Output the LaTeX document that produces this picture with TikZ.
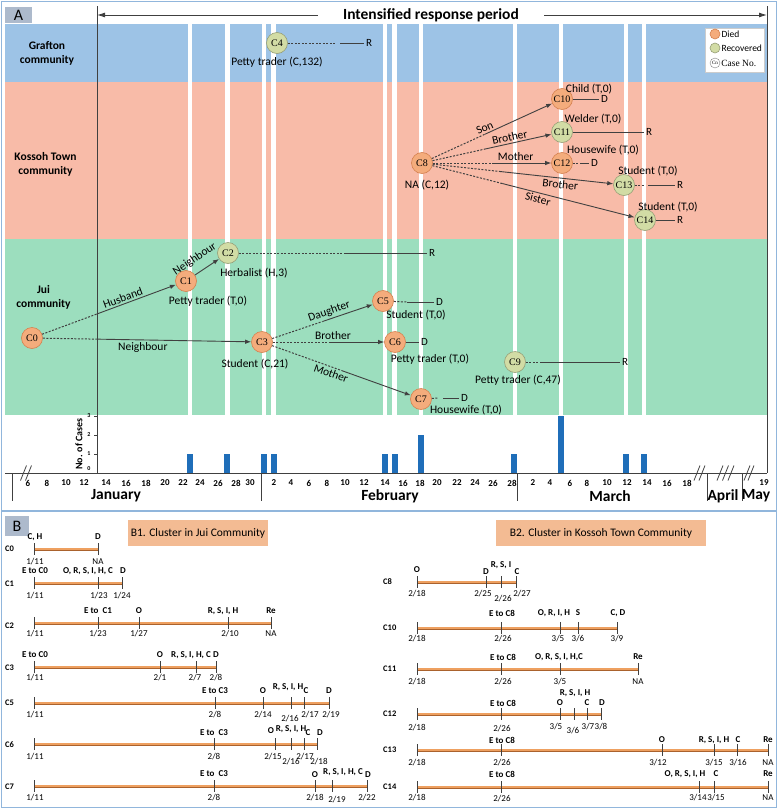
\documentclass[tikz,border=0pt]{standalone}
\usepackage{fontspec}
\setmainfont{Carlito}
\newfontfamily\timesf{Liberation Serif}
\usetikzlibrary{arrows.meta,calc}

\definecolor{graftonblue}{RGB}{157,195,230}
\definecolor{kossohpink}{RGB}{248,187,168}
\definecolor{juigreen}{RGB}{156,222,190}
\definecolor{diedfill}{RGB}{244,172,124}
\definecolor{diedline}{RGB}{212,128,78}
\definecolor{recfill}{RGB}{210,220,165}
\definecolor{recline}{RGB}{150,158,118}
\definecolor{barblue}{RGB}{31,110,185}
\definecolor{framebl}{RGB}{145,182,220}
\definecolor{edgegray}{RGB}{64,64,64}
\definecolor{tlfill}{RGB}{238,160,96}
\definecolor{tledge}{RGB}{170,98,45}
\definecolor{boxorange}{RGB}{243,187,147}
\definecolor{panelgray}{RGB}{173,186,204}

\tikzset{
  died/.style={circle,draw=diedline,line width=0.6pt,fill=diedfill,minimum size=21pt,inner sep=0pt,font=\timesf\fontsize{10}{10}\selectfont},
  recov/.style={died,draw=recline,fill=recfill},
  job/.style={inner sep=0pt,font=\fontsize{11.5}{12}\selectfont},
  rel/.style={inner sep=2pt,font=\fontsize{11.5}{12}\selectfont},
  outc/.style={anchor=west,inner sep=2pt,font=\fontsize{11}{12}\selectfont},
  link/.style={draw=edgegray,line width=0.9pt,-{Latex[length=6pt,width=4.5pt]}},
  early/.style={draw=edgegray,line width=1pt,dash pattern=on 2pt off 1.5pt},
  tail/.style={draw=edgegray,line width=0.8pt},
  comm/.style={align=center,inner sep=0pt,font=\bfseries\fontsize{11.5}{14}\selectfont},
  datenum/.style={inner sep=0pt,font=\bfseries\fontsize{9}{9}\selectfont},
  monthlab/.style={inner sep=0pt,font=\bfseries\fontsize{15.5}{16}\selectfont},
  tline/.style={draw=tledge,line width=0.7pt,double=tlfill,double distance=1.6pt},
  tickm/.style={draw=edgegray,line width=0.6pt},
  evtlab/.style={inner sep=0pt,font=\bfseries\fontsize{9}{9}\selectfont},
  daylab/.style={inner sep=0pt,font=\fontsize{9}{9}\selectfont},
  rowlab/.style={anchor=west,inner sep=0pt,font=\bfseries\fontsize{8.5}{9}\selectfont},
  panel/.style={fill=panelgray,inner sep=0pt,font=\fontsize{16}{16}\selectfont},
  cluster/.style={fill=boxorange,inner sep=0pt,minimum height=26pt,font=\fontsize{11.5}{12}\selectfont},
}

\begin{document}
\begin{tikzpicture}[x=1pt,y=-1pt]
\useasboundingbox (0,0) rectangle (778,809);
% frame of both panels
\draw[framebl,line width=1.2pt] (1.5,1.5) rectangle (776.5,807.5);
\draw[framebl,line width=1.2pt] (1.5,511) -- (776.5,511);

% community bands
\fill[graftonblue] (5,24) rectangle (767,82);
\fill[kossohpink] (5,82) rectangle (767,239);
\fill[juigreen] (5,239) rectangle (767,415);
\foreach \x in {190,227.5,264,273.5,385,394.5,421,515,561,626,644}
  \fill[white] (\x-2.2,24) rectangle (\x+2.2,415);
\node[comm] (graf) at (47,53) {Grafton\\community};
\node[comm] (koss) at (45.5,164) {Kossoh Town\\community};
\node[comm] (jui) at (43.5,297) {Jui\\community};

% panel letters
\node[panel,minimum width=27pt,minimum height=16pt] (pA) at (18.5,15) {A};
\node[panel,minimum width=24pt,minimum height=20pt] (pB) at (17,526) {B};

% intensified response period
\coordinate (topL) at (97,6);
\coordinate (topR) at (767,6);
\draw[edgegray,line width=0.9pt] (topL) -- (97,473);
\draw[edgegray,line width=0.9pt] (topR) -- (767,473);
\node[inner sep=0pt,font=\bfseries\fontsize{15.5}{16}\selectfont] (irp) at (431,15) {Intensified response period};
\draw[edgegray,line width=0.9pt,-{Latex[length=8pt,width=5pt]}] ([xshift=-25]irp.west) -- (irp.west -| topL);
\draw[edgegray,line width=0.9pt,-{Latex[length=8pt,width=5pt]}] ([xshift=25]irp.east) -- (irp.east -| topR);

% legend
\draw[gray!40,fill=white] (705,28) rectangle (764,72);
\node[died,minimum size=10pt] (lgD) at (715,34) {};
\node[recov,minimum size=10pt] (lgR) at (715,48) {};
\node[circle,draw=gray,fill=white,minimum size=10pt,inner sep=0pt,font=\timesf\fontsize{5}{5}\selectfont] (lgC) at (715,63) {Cn};
\node[anchor=west,inner sep=1pt,font=\fontsize{9.5}{10}\selectfont] (lgDt) at (lgD.east) {Died};
\node[anchor=west,inner sep=1pt,font=\fontsize{9.5}{10}\selectfont] (lgRt) at (lgR.east) {Recovered};
\node[anchor=west,inner sep=1pt,font=\timesf\fontsize{9.5}{10}\selectfont] (lgCt) at (lgC.east) {Case No.};

% cases
\node[died] (C0) at (32,338) {C0};
\node[died] (C1) at (186,281) {C1};
\node[recov] (C2) at (228,253) {C2};
\node[died] (C3) at (262,342) {C3};
\node[recov] (C4) at (277,43) {C4};
\node[died] (C5) at (383,301) {C5};
\node[died] (C6) at (395,342) {C6};
\node[died] (C7) at (421,399) {C7};
\node[died] (C8) at (422,163) {C8};
\node[recov] (C9) at (515,362) {C9};
\node[died] (C10) at (562,99) {C10};
\node[recov] (C11) at (562,132) {C11};
\node[died] (C12) at (562,163) {C12};
\node[recov] (C13) at (624,185) {C13};
\node[recov] (C14) at (645,220) {C14};

% occupations
\node[job] (jC4) at (277,62) {Petty trader (C,132)};
\node[job] (jC1) at (208,301) {Petty trader (T,0)};
\node[job] (jC2) at (254,273) {Herbalist (H,3)};
\node[job] (jC3) at (255,364) {Student (C,21)};
\node[job] (jC5) at (416,315) {Student (T,0)};
\node[job] (jC6) at (430,359) {Petty trader (T,0)};
\node[job] (jC7) at (466,410) {Housewife (T,0)};
\node[job] (jC8) at (427,185) {NA (C,12)};
\node[job] (jC9) at (518,380) {Petty trader (C,47)};
\node[job] (jC10) at (589,89) {Child (T,0)};
\node[job] (jC11) at (593,119) {Welder (T,0)};
\node[job] (jC12) at (603,150) {Housewife (T,0)};
\node[job] (jC13) at (648,171) {Student (T,0)};
\node[job] (jC14) at (668,207) {Student (T,0)};

% Jui chain
\draw[early] (C0) -- ($(C0)!0.42!(C1)$) coordinate (b01);
\draw[link] (b01) -- (C1);
\draw[early] (C0) -- ($(C0)!0.28!(C3)$) coordinate (b03);
\draw[link] (b03) -- (C3);
\draw[link] (C1) -- (C2) node[rel,above=6pt,sloped,pos=0.3] (lC2) {Neighbour};
\path (C0) -- (C1) node[rel,above,sloped,pos=0.62] (lC1) {Husband};
\path (C0) -- (C3) node[rel,below,pos=0.48] (lC3) {Neighbour};
\draw[early] (C3) -- ($(C3)!0.5!(C5)$) coordinate (b35);
\draw[link] (b35) -- (C5);
\draw[early] (C3) -- ($(C3)!0.5!(C6)$) coordinate (b36);
\draw[link] (b36) -- (C6);
\draw[early] (C3) -- ($(C3)!0.5!(C7)$) coordinate (b37);
\draw[link] (b37) -- (C7);
\path (C3) -- (C5) node[rel,above,sloped,pos=0.59] (lC5) {Daughter};
\path (C3) -- (C6) node[rel,above,pos=0.54] (lC6) {Brother};
\path (C3) -- (C7) node[rel,below,sloped,pos=0.44] (lC7) {Mother};

% Kossoh Town chain
\draw[early] (C8) -- ($(C8)!0.45!(C10)$) coordinate (b810);
\draw[link] (b810) -- (C10);
\draw[early] (C8) -- ($(C8)!0.45!(C11)$) coordinate (b811);
\draw[link] (b811) -- (C11);
\draw[early] (C8) -- ($(C8)!0.5!(C12)$) coordinate (b812);
\draw[link] (b812) -- (C12);
\draw[early] (C8) -- ($(C8)!0.39!(C13)$) coordinate (b813);
\draw[link] (b813) -- (C13);
\draw[early] (C8) -- ($(C8)!0.36!(C14)$) coordinate (b814);
\draw[link] (b814) -- (C14);
\path (C8) -- (C10) node[rel,above,sloped,pos=0.46] (lC10) {Son};
\path (C8) -- (C11) node[rel,above,sloped,pos=0.66] (lC11) {Brother};
\path (C8) -- (C12) node[rel,above,pos=0.7] (lC12) {Mother};
\path (C8) -- (C13) node[rel,below,sloped,pos=0.71] (lC13) {Brother};
\path (C8) -- (C14) node[rel,below,sloped,pos=0.53] (lC14) {Sister};

% outcomes
\node[outc] (oC4) at (364,43) {R};
\node[outc] (oC2) at (427,253) {R};
\node[outc] (oC5) at (434,302) {D};
\node[outc] (oC6) at (419,342) {D};
\node[outc] (oC7) at (459,398) {D};
\node[outc] (oC9) at (620,362) {R};
\node[outc] (oC10) at (599,99) {D};
\node[outc] (oC11) at (644,132) {R};
\node[outc] (oC12) at (589,163) {D};
\node[outc] (oC13) at (675,185) {R};
\node[outc] (oC14) at (675,220) {R};
\foreach \c/\d in {C4/29,C2/82,C5/27,C7/21,C9/80,C12/7,C13/30}
  \draw[early] (\c) -- ([xshift=-\d]o\c.west);
\foreach \c/\s in {C4/24,C2/82,C5/27,C7/16,C9/80,C12/7,C13/27}
  \draw[tail] ([xshift=-\s]o\c.west) -- (o\c);
\foreach \c in {C6,C10,C11,C14}
  \draw[tail] (\c) -- (o\c);

% number of cases
\foreach \x/\n in {190/1,227/1,264/1,274/1,385/1,395/1,421/2,514/1,561/3,626/1,644/1}
  \fill[barblue] (\x-3,473) rectangle (\x+3,473-19*\n);
\foreach \n in {0,1,2,3} {
  \draw[edgegray,line width=0.6pt] (94,473-19*\n) -- (97,473-19*\n);
  \node[inner sep=0pt,font=\bfseries\fontsize{6}{6}\selectfont] (n\n) at (89,{min(469,473-19*\n)}) {\n};
}
\node[rotate=90,inner sep=0pt,font=\bfseries\fontsize{10}{10}\selectfont] (ncase) at (79,444) {No. of Cases};

% date axis
\draw[edgegray,line width=0.9pt] (5,473) -- (767,473);
\foreach \x in {12,261,517,707,742}
  \draw[edgegray,line width=0.7pt] (\x,473) -- (\x,501);
\foreach \x in {23.5,28.5,697,702,720,725.5,731,747,751}
  \draw[edgegray,line width=0.8pt] (\x-3,480.5) -- (\x+3,465.5);
\foreach \x/\d in {28/6,47/8,66/10,84/12,106/14,126/16,146/18,165/20,183/22,200/24,218/26,236/28,250/30,
                   274/2,291/4,309/6,327/8,345/10,364/12,385/14,403/16,420/18,437/20,457/22,475/24,493/26,512/28,
                   533/2,550/4,570/6,587/8,607/10,627/12,647/14,667/16,687/18,764/19}
  \node[datenum] (d\x) at (\x,483) {\d};
\node[monthlab] (jan) at (116,496) {January};
\node[monthlab] (feb) at (390,496) {February};
\node[monthlab] (mar) at (610,496) {March};
\node[monthlab] (apr) at (723,496) {April};
\node[monthlab] (may) at (756,496) {May};

% B1 cluster in Jui
\node[cluster,minimum width=140pt] (bJui) at (198,533) {B1. Cluster in Jui Community};
% C0 row
\node[rowlab] (rC0) at (5,549) {C0};
\draw[tline] (34,549) -- (98,549);
\foreach \x in {34,98} \draw[tickm] (\x,543) -- (\x,555);
\foreach \x/\y/\t in {35/537/{C, H},98/537/D} \node[evtlab] (C0e\x) at (\x,\y) {\t};
\foreach \x/\y/\t in {35/562/{1/11},98/562/NA} \node[daylab] (C0d\x) at (\x,\y) {\t};
% C1 row
\node[rowlab] (rC1) at (5,584) {C1};
\draw[tline] (34,583) -- (122,583);
\foreach \x in {34,98,122} \draw[tickm] (\x,577) -- (\x,589);
\foreach \x/\y/\t in {35/571/{E to C0},88/571/{O, R, S, I, H, C},123/571/D} \node[evtlab] (C1e\x) at (\x,\y) {\t};
\foreach \x/\y/\t in {35/596/{1/11},99/596/{1/23},122/596/{1/24}} \node[daylab] (C1d\x) at (\x,\y) {\t};
% C2 row
\node[rowlab] (rC2) at (5,626) {C2};
\draw[tline] (34,623) -- (271,623);
\foreach \x in {34,98,139,228,271} \draw[tickm] (\x,617) -- (\x,629);
\foreach \x/\y/\t in {98/611/{E to\ \ C1},139/611/O,223/611/{R, S, I, H},271/611/Re} \node[evtlab] (C2e\x) at (\x,\y) {\t};
\foreach \x/\y/\t in {35/634/{1/11},98/634/{1/23},139/634/{1/27},230/634/{2/10},271/634/NA} \node[daylab] (C2d\x) at (\x,\y) {\t};
% C3 row
\node[rowlab] (rC3) at (5,668) {C3};
\draw[tline] (34,667) -- (216,667);
\foreach \x in {34,160,196,216} \draw[tickm] (\x,661) -- (\x,673);
\foreach \x/\y/\t in {35/655/{E to C0},160/655/O,191/655/{R, S, I, H, C},216/655/D} \node[evtlab] (C3e\x) at (\x,\y) {\t};
\foreach \x/\y/\t in {35/678/{1/11},160/678/{2/1},195/678/{2/7},216/678/{2/8}} \node[daylab] (C3d\x) at (\x,\y) {\t};
% C5 row
\node[rowlab] (rC5) at (5,703) {C5};
\draw[tline] (34,703) -- (329,703);
\foreach \x in {34,215,263,291,304,329} \draw[tickm] (\x,697) -- (\x,709);
\foreach \x/\y/\t in {215/691/{E to C3},263/691/O,288/687/{R, S, I, H},306/691/C,329/691/D} \node[evtlab] (C5e\x) at (\x,\y) {\t};
\foreach \x/\y/\t in {35/715/{1/11},215/715/{2/8},263/715/{2/14},290/719/{2/16},310/715/{2/17},331/715/{2/19}} \node[daylab] (C5d\x) at (\x,\y) {\t};
% C6 row
\node[rowlab] (rC6) at (5,745) {C6};
\draw[tline] (34,744) -- (317,744);
\foreach \x in {34,214,275,291,304,317} \draw[tickm] (\x,738) -- (\x,750);
\foreach \x/\y/\t in {214/733/{E to\ \ C3},271/731/O,291/729/{R, S, I, H},308/733/C,320/733/D} \node[evtlab] (C6e\x) at (\x,\y) {\t};
\foreach \x/\y/\t in {35/757/{1/11},214/757/{2/8},273/757/{2/15},291/762/{2/16},305/757/{2/17},319/762/{2/18}} \node[daylab] (C6d\x) at (\x,\y) {\t};
% C7 row
\node[rowlab] (rC7) at (5,787) {C7};
\draw[tline] (34,786) -- (367,786);
\foreach \x in {34,214,315,332,367} \draw[tickm] (\x,780) -- (\x,792);
\foreach \x/\y/\t in {214/774/{E to\ \ C3},315/775/O,343/772/{R, S, I, H, C},368/775/D} \node[evtlab] (C7e\x) at (\x,\y) {\t};
\foreach \x/\y/\t in {35/798/{1/11},214/798/{2/8},315/798/{2/18},337/800/{2/19},367/798/{2/22}} \node[daylab] (C7d\x) at (\x,\y) {\t};

% B2 cluster in Kossoh Town
\node[cluster,minimum width=210pt] (bKoss) at (601,533) {B2. Cluster in Kossoh Town Community};
% C8 row
\node[rowlab] (rC8) at (383,582) {C8};
\draw[tline] (417,582) -- (516,582);
\foreach \x in {417,486,501,516} \draw[tickm] (\x,576) -- (\x,588);
\foreach \x/\y/\t in {417/570/O,486/572/D,501/565/{R, S, I},517/572/C} \node[evtlab] (C8e\x) at (\x,\y) {\t};
\foreach \x/\y/\t in {417/594/{2/18},483/594/{2/25},503/599/{2/26},522/594/{2/27}} \node[daylab] (C8d\x) at (\x,\y) {\t};
% C10 row
\node[rowlab] (rC10) at (383,628) {C10};
\draw[tline] (417,628) -- (617,628);
\foreach \x in {417,501,560,578,617} \draw[tickm] (\x,622) -- (\x,634);
\foreach \x/\y/\t in {502/613/{E to C8},554/613/{O, R, I, H},578/613/S,618/613/{C, D}} \node[evtlab] (C10e\x) at (\x,\y) {\t};
\foreach \x/\y/\t in {417/639/{2/18},503/639/{2/26},558/639/{3/5},578/639/{3/6},617/639/{3/9}} \node[daylab] (C10d\x) at (\x,\y) {\t};
% C11 row
\node[rowlab] (rC11) at (383,669) {C11};
\draw[tline] (417,669) -- (638,669);
\foreach \x in {417,501,560,638} \draw[tickm] (\x,663) -- (\x,675);
\foreach \x/\y/\t in {503/657/{E to C8},559/657/{O, R, S, I, H,C},638/657/Re} \node[evtlab] (C11e\x) at (\x,\y) {\t};
\foreach \x/\y/\t in {417/682/{2/18},503/682/{2/26},560/682/{3/5},638/682/NA} \node[daylab] (C11d\x) at (\x,\y) {\t};
% C12 row
\node[rowlab] (rC12) at (383,714) {C12};
\draw[tline] (417,714) -- (601,714);
\foreach \x in {417,501,560,574,587,601} \draw[tickm] (\x,708) -- (\x,720);
\foreach \x/\y/\t in {503/703/{E to C8},560/703/O,575/693/{R, S, I, H},587/703/C,602/703/D} \node[evtlab] (C12e\x) at (\x,\y) {\t};
\foreach \x/\y/\t in {417/728/{2/18},502/729/{2/26},556/727/{3/5},573/731/{3/6},588/727/{3/7},601/727/{3/8}} \node[daylab] (C12d\x) at (\x,\y) {\t};
% C13 row
\node[rowlab] (rC13) at (383,750) {C13};
\draw[tline] (417,750) -- (768,750);
\foreach \x in {417,501,662,714,737,768} \draw[tickm] (\x,744) -- (\x,756);
\foreach \x/\y/\t in {502/740/{E to C8},662/740/O,714/740/{R, S, I, H},738/740/C,768/740/Re} \node[evtlab] (C13e\x) at (\x,\y) {\t};
\foreach \x/\y/\t in {417/763/{2/18},502/763/{2/26},658/763/{3/12},714/763/{3/15},738/763/{3/16},768/763/NA} \node[daylab] (C13d\x) at (\x,\y) {\t};
% C14 row
\node[rowlab] (rC14) at (383,787) {C14};
\draw[tline] (417,787) -- (768,787);
\foreach \x in {417,501,699,714,768} \draw[tickm] (\x,781) -- (\x,793);
\foreach \x/\y/\t in {502/774/{E to C8},685/774/{O, R, S, I, H},716/774/C,768/774/Re} \node[evtlab] (C14e\x) at (\x,\y) {\t};
\foreach \x/\y/\t in {417/798/{2/18},502/799/{2/26},698/798/{3/14},716/798/{3/15},768/798/NA} \node[daylab] (C14d\x) at (\x,\y) {\t};
\end{tikzpicture}
\end{document}
